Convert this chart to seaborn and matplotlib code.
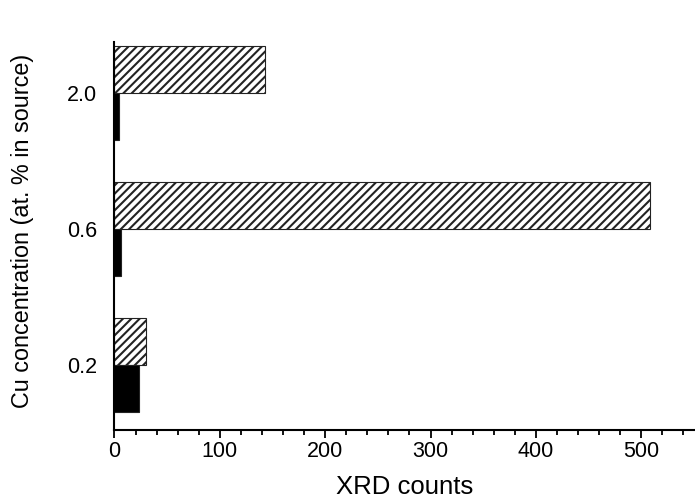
import matplotlib
matplotlib.use("Agg")
import matplotlib.pyplot as plt
from matplotlib.ticker import MultipleLocator
import seaborn as sns
import pandas as pd

# data
concentrations = ["2.0", "0.6", "0.2"]          # top to bottom
hatched_counts = [143, 508, 30]
solid_counts = [4.5, 6.5, 23.5]
series_names = ["hatched", "solid"]

df = pd.DataFrame({
    "conc": concentrations * 2,
    "counts": hatched_counts + solid_counts,
    "series": [series_names[0]] * 3 + [series_names[1]] * 3,
})

sns.set_style("ticks")
plt.rcParams["font.family"] = ["Liberation Sans", "DejaVu Sans"]
plt.rcParams["hatch.linewidth"] = 1.5
plt.rcParams["hatch.color"] = "black"
plt.rcParams["text.color"] = "black"
plt.rcParams["axes.labelcolor"] = "black"

fig = plt.figure(figsize=(6.95, 4.98), dpi=100)
ax = fig.add_axes([0.1647, 0.1365, 0.8353, 0.7792])

sns.barplot(data=df, x="counts", y="conc", hue="series", order=concentrations,
            hue_order=series_names, orient="h", palette=["white", "black"],
            saturation=1, width=0.69, gap=0, edgecolor="#222222", linewidth=0.8,
            legend=False, ax=ax)

for patch in ax.containers[0]:
    patch.set_hatch("////")

ax.set_xlim(0, 551)
ax.set_ylim(2.478, -0.375)
ax.xaxis.set_major_locator(MultipleLocator(100))
ax.xaxis.set_minor_locator(MultipleLocator(20))

sns.despine(ax=ax)
for s in ["left", "bottom"]:
    ax.spines[s].set_linewidth(1.5)
    ax.spines[s].set_color("black")

ax.tick_params(axis="x", which="major", length=6, width=1.3, direction="out",
               labelsize=15.5, pad=2, colors="black")
ax.tick_params(axis="x", which="minor", length=3.5, width=1.3, direction="out",
               colors="black")
ax.tick_params(axis="y", length=0, pad=12.5, labelsize=15.5, colors="black")

ax.set_xlabel("XRD counts", fontsize=18.5, labelpad=9, color="black")
ax.set_ylabel("Cu concentration (at. % in source)", fontsize=16.8, color="black")
ax.yaxis.set_label_coords(-0.139, 0.513)

fig.savefig("out.png", dpi=100)
